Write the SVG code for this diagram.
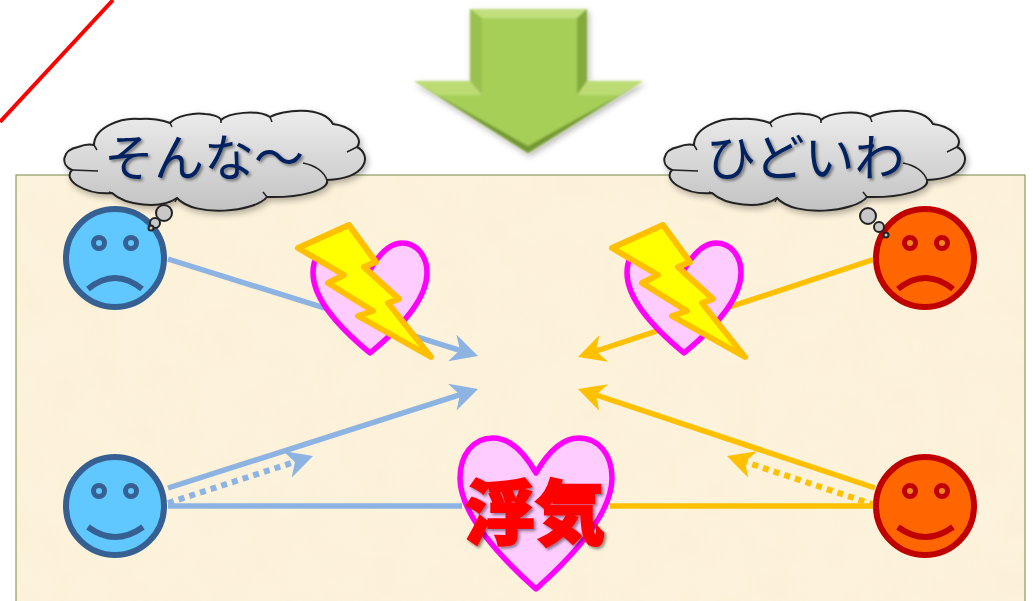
<svg xmlns="http://www.w3.org/2000/svg" width="1033" height="601" viewBox="0 0 1033 601">
<style>
.blue{stroke:#8db3e2;fill:none;stroke-width:5.5}
.orange{stroke:#ffc000;fill:none;stroke-width:5.5}
.dot{stroke-width:6;stroke-dasharray:6 5.2}
.face{stroke-width:6}
.bf{fill:#61c7ff;stroke:#366092}
.rf{fill:#ff6600;stroke:#c00000}
.mouth{fill:none;stroke-width:6}
.bm{stroke:#366092}
.rm{stroke:#c00000}
.bolt{fill:#ffff00;stroke:#ffc000;stroke-width:6;stroke-linejoin:round}
.heart{fill:#ffccff;stroke:#ff00ff;stroke-width:5.5;stroke-linejoin:round}
.say{font-family:"Noto Sans CJK JP","Noto Sans CJK SC",sans-serif;font-size:50px;font-weight:400;fill:#002060;filter:url(#ts)}
.bub{fill:#c8c8c8;stroke:#222;stroke-width:2}
</style>
<defs>
<linearGradient id="cg" x1="0" y1="0" x2="0" y2="1"><stop offset="0" stop-color="#ececec"/><stop offset="1" stop-color="#c2c2c2"/></linearGradient>
<filter id="ts" x="-10%" y="-10%" width="125%" height="130%"><feDropShadow dx="2" dy="2" stdDeviation="1.5" flood-color="#000" flood-opacity=".45"/></filter>
<filter id="ss" x="-10%" y="-10%" width="120%" height="130%"><feDropShadow dx="2" dy="3" stdDeviation="3" flood-color="#000" flood-opacity=".3"/></filter>
<filter id="soft" x="-5%" y="-5%" width="110%" height="110%"><feGaussianBlur stdDeviation=".8"/></filter>
<filter id="tex" x="0" y="0" width="100%" height="100%"><feTurbulence type="fractalNoise" baseFrequency=".025" numOctaves="3" seed="4"/><feColorMatrix values="0 0 0 0 .93 0 0 0 0 .82 0 0 0 0 .6 1.6 0 0 0 -.6"/></filter>
<marker id="ab" markerUnits="userSpaceOnUse" markerWidth="30" markerHeight="30" refX="19" refY="14" orient="auto"><path d="M0,0 L27,14 L0,28 L8,14Z" fill="#8db3e2"/></marker>
<marker id="ao" markerUnits="userSpaceOnUse" markerWidth="30" markerHeight="30" refX="19" refY="14" orient="auto"><path d="M0,0 L27,14 L0,28 L8,14Z" fill="#ffc000"/></marker>
<path id="cloud" d="M72,170 C60,165 62,150 78,147 C83,145 90,144 94,145 C94,128 120,117 140,119 C150,118 163,120 170,123 C176,116 195,112 205,114 C212,114 220,117 221,120 C228,113 258,109 270,117 C282,110 322,105 333,124 C350,126 364,138 357,147 C372,155 368,178 327,180 C330,190 300,198 267,197 C255,212 195,218 177,198 C160,210 125,205 112,193 C85,195 62,180 72,170Z" fill="url(#cg)" stroke="#222" stroke-width="2"/>
<path id="ticks" d="M72,170 L98,171 M94,145 L97,150 M170,123 L172,127 M221,120 L221,123 M270,117 L272,122 M333,124 L331,121 M357,147 L347,152 M327,180 Q322,167 303,163 M267,197 L263,192 M177,198 L175,202 M112,193 L109,192" fill="none" stroke="#222" stroke-width="1.5"/>
<path id="sh" class="heart" d="M0,-83 C-12,-104 -23,-110 -32,-110 C-47,-110 -57,-97 -57,-80 C-57,-56 -34,-28 0,0 C34,-28 57,-56 57,-80 C57,-97 47,-110 32,-110 C23,-110 12,-104 0,-83Z"/>
<polygon id="bl" class="bolt" points="663,225 690,262 678,267 713,299 702,303 745,357 672,316 687,311 642,283 658,275 612,248"/>
</defs>
<rect width="1033" height="601" fill="#fff"/>
<path d="M0,122 L113,0" stroke="#ff0000" stroke-width="4" fill="none"/>
<g id="panel">
<rect x="16" y="175" width="1009" height="440" fill="#fdf2db" stroke="#8e9a63" stroke-width="1.2"/>
<rect x="17" y="176" width="1007" height="425" filter="url(#tex)" opacity=".3"/>
</g>
<g id="down-arrow" filter="url(#ss)">
<g filter="url(#soft)">
<polygon points="470,9 587,9 587,81 643,81 528,153 414,81 470,81" fill="#a6cf58"/>
<polygon points="470,9 587,9 577,18 482,18" fill="#c2df7e"/>
<polygon points="470,9 482,18 482,95 470,81" fill="#9ac150"/>
<polygon points="587,9 577,18 577,95 587,81" fill="#84a93d"/>
<polygon points="414,81 470,81 482,95 437,95" fill="#bcdc73"/>
<polygon points="643,81 587,81 577,95 620,95" fill="#bcdc73"/>
<polygon points="414,81 437,95 528,146 528,153" fill="#739832"/>
<polygon points="643,81 620,95 528,146 528,153" fill="#739832"/>
</g>
</g>
<g id="connectors">
<path class="blue" d="M168,259 L470.4,353.6" marker-end="url(#ab)"/>
<path class="blue" d="M168,488 L470.4,391.4" marker-end="url(#ab)"/>
<path class="blue dot" d="M168,503 L305.4,458.5" marker-end="url(#ab)"/>
<path class="blue" d="M168,506 L462,506"/>
<path class="orange" d="M875,259 L585.6,354.5" marker-end="url(#ao)"/>
<path class="orange" d="M875,488 L585.6,391.5" marker-end="url(#ao)"/>
<path class="orange dot" d="M875,505 L734.6,458.5" marker-end="url(#ao)"/>
<path class="orange" d="M875,506 L610,506"/>
</g>
<g id="face-top-left">
<circle class="face bf" cx="115" cy="258" r="49"/>
<circle cx="99" cy="243" r="5.5" fill="#61c7ff" stroke="#366092" stroke-width="5"/>
<circle cx="131" cy="243" r="5.5" fill="#61c7ff" stroke="#366092" stroke-width="5"/>
<path class="mouth bm" d="M88,289 Q115,267 142,289"/>
</g>
<g id="face-bottom-left">
<circle class="face bf" cx="115" cy="506" r="49"/>
<circle cx="99" cy="491" r="5.5" fill="#61c7ff" stroke="#366092" stroke-width="5"/>
<circle cx="131" cy="491" r="5.5" fill="#61c7ff" stroke="#366092" stroke-width="5"/>
<path class="mouth bm" d="M88,527 Q115,547 143,527"/>
</g>
<g id="face-top-right">
<circle class="face rf" cx="925" cy="258" r="49"/>
<circle cx="910" cy="243" r="5.5" fill="#f08a20" stroke="#c00000" stroke-width="5"/>
<circle cx="942" cy="243" r="5.5" fill="#f08a20" stroke="#c00000" stroke-width="5"/>
<path class="mouth rm" d="M898,289 Q925,267 953,289"/>
</g>
<g id="face-bottom-right">
<circle class="face rf" cx="925" cy="506" r="49"/>
<circle cx="910" cy="491" r="5.5" fill="#f08a20" stroke="#c00000" stroke-width="5"/>
<circle cx="942" cy="491" r="5.5" fill="#f08a20" stroke="#c00000" stroke-width="5"/>
<path class="mouth rm" d="M898,527 Q925,547 953,527"/>
</g>
<g id="broken-heart-left">
<use href="#sh" transform="translate(370,353)"/>
<use href="#bl" transform="translate(-314,0)"/>
</g>
<g id="broken-heart-right">
<use href="#sh" transform="translate(684,353)"/>
<use href="#bl"/>
</g>
<g id="cheating-heart">
<path class="heart" d="M536,473 C520,445 505,438 493,438 C473,438 460,455 460,478 C460,510 490,548 536,589 C582,548 612,510 612,478 C612,455 599,438 579,438 C567,438 552,445 536,473Z"/>
<text x="535" y="539" text-anchor="middle" font-family="'Noto Sans CJK JP','Noto Sans CJK SC',sans-serif" font-size="70" font-weight="900" fill="#ff0000" stroke="#ff0000" stroke-width="2" filter="url(#ts)">浮気</text>
</g>
<g id="thought-left">
<g filter="url(#ss)"><use href="#cloud"/></g>
<use href="#ticks"/>
<circle class="bub" cx="164" cy="213" r="8"/>
<circle class="bub" cx="155" cy="223" r="5"/>
<circle class="bub" cx="151" cy="228" r="2.5"/>
<text class="say" x="104" y="176">そんな～</text>
</g>
<g id="thought-right">
<g filter="url(#ss)"><use href="#cloud" transform="translate(600,0)"/></g>
<use href="#ticks" transform="translate(600,0)"/>
<circle class="bub" cx="868" cy="216" r="8"/>
<circle class="bub" cx="879" cy="227" r="5"/>
<circle class="bub" cx="886" cy="235" r="2.5"/>
<text class="say" x="706" y="176">ひどいわ</text>
</g>
</svg>
